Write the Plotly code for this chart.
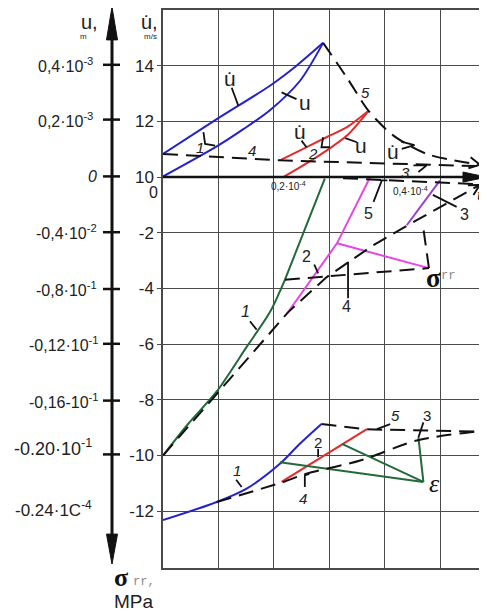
import math
import plotly.graph_objects as go

# ---------------- data ----------------
# x: time, one grid column = 0.1·10^-4 s ; y: chart units
# (above the t-axis: u̇ - 10 m/s ; below: σ_rr in MPa-scale units)

# region u / u̇
t_udot1 = [0, 0.97, 1.93, 2.41, 2.89]
udot1 = [0.83, 2.08, 3.28, 4.0, 4.82]
t_u1 = [0, 0.97, 1.45, 1.93, 2.47, 2.89]
u1 = [0.02, 1.10, 1.72, 2.40, 3.45, 4.82]
t_d5 = [2.89, 3.32, 3.71, 4.16, 4.76, 5.72]
d5 = [4.82, 3.57, 2.38, 1.49, 0.83, 0.44]
t_d4 = [0, 2.11, 5.72]
d4 = [0.83, 0.60, 0.39]
t_udot2 = [2.11, 2.53, 2.95, 3.32, 3.71]
udot2 = [0.60, 1.01, 1.43, 1.79, 2.38]
t_u2 = [2.17, 2.53, 2.95, 3.32, 3.71]
u2 = [0.0, 0.42, 0.95, 1.49, 2.38]
t_d3 = [3.25, 5.72]
d3 = [-0.04, -0.26]

# region σ_rr
t_s1a = [0, 0.46, 0.97, 1.51, 1.93, 2.2]
s1a = [-10, -8.85, -7.70, -6.10, -4.85, -3.69]
t_s1b = [2.2, 2.92]
s1b = [-3.69, -0.06]
t_sd1 = [0, 0.91, 1.75, 2.26, 2.95, 3.8, 4.58, 5.72]
sd1 = [-10, -7.92, -6.01, -4.85, -3.6, -2.44, -1.55, -0.28]
t_sd4 = [2.2, 4.8]
sd4 = [-3.69, -3.27]
t_sd3 = [4.8, 4.69]
sd3 = [-3.27, -1.71]
t_s2 = [2.24, 3.14, 3.74]
s2 = [-4.9, -2.38, 0.0]
t_s2b = [3.14, 4.8]
s2b = [-2.38, -3.27]
t_s3 = [4.40, 5.0]
s3 = [-1.73, -0.12]

# region ε
t_e1 = [0, 0.97, 1.51, 2.11, 2.47, 2.86]
e1 = [-12.32, -11.67, -11.19, -10.30, -9.58, -8.87]
t_ed5 = [2.86, 3.68, 5.72]
ed5 = [-8.87, -9.06, -9.14]
t_ed1 = [0.97, 2.17, 2.59, 3.56, 4.58, 5.72]
ed1 = [-11.67, -10.95, -10.65, -10.18, -9.46, -9.12]
t_e2 = [2.14, 3.68]
e2 = [-10.95, -9.05]
t_g1 = [2.11, 4.70]
g1 = [-10.24, -10.95]
t_g2 = [3.23, 4.70]
g2 = [-9.58, -10.95]
t_g3 = [4.61, 4.70]
g3 = [-9.35, -10.95]

# axis ticks
y_tickvals = [4, 2, 0, -2, -4, -6, -8, -10, -12]
y_ticktext = ["14", "12", "10", "-2", "-4", "-6", "-8", "-10", "-12"]
x_gridvals = [0, 1, 2, 3, 4, 5]
outer_labels = ["0,4·10<sup>-3</sup>", "0,2·10<sup>-3</sup>", "<i>0</i>",
                "-0,4·10<sup>-2</sup>", "-0,8·10<sup>-1</sup>", "-0,12·10<sup>-1</sup>",
                "-0,16-10<sup>-1</sup>", "-0.20·10<sup>-1</sup>", "-0.24·1C<sup>-4</sup>"]

# ---------------- geometry / styling ----------------
OFF = 8                      # page body margin of the browser
WIN_W, WIN_H = 487, 611
W_FIG, H_FIG = WIN_W - OFF, WIN_H - OFF
L, R, T, B = 163, 487, 8, 568   # plot area in window pixels
XMAX = 5.848
YMIN, YMAX = -14.04, 6.0
SX = (R - L) / XMAX
SY = (B - T) / (YMAX - YMIN)

BLUE = "#2323c8"
RED = "#e52a2a"
GREEN = "#23693a"
MAG = "#e844e8"
PURP = "#9a3fd0"
BLK = "#111111"
DASH = "15px,8px"
SANS = "Arial, Liberation Sans, sans-serif"
SERIF = "Liberation Serif, DejaVu Serif, serif"
MONO = "Liberation Mono, DejaVu Sans Mono, monospace"

fig = go.Figure()


def line(x, y, color, width=2.0, dash=None, shape="linear"):
    fig.add_trace(go.Scatter(x=x, y=y, mode="lines",
                             line=dict(color=color, width=width, dash=dash, shape=shape,
                                       smoothing=0.8),
                             hoverinfo="skip", showlegend=False))


def chevron(xs, ys, length=12, ang=28):
    xe, ye, xp, yp = xs[-1], ys[-1], xs[-2], ys[-2]
    dx, dy = (xe - xp) * SX, (ye - yp) * SY
    n = math.hypot(dx, dy)
    dx, dy = dx / n, dy / n
    px, py = [], []
    for s in (1, -1):
        a = math.radians(ang) * s
        rx = dx * math.cos(a) - dy * math.sin(a)
        ry = dx * math.sin(a) + dy * math.cos(a)
        px.append(xe - length * rx / SX)
        py.append(ye - length * ry / SY)
    line([px[0], xe, px[1]], [py[0], ye, py[1]], BLK, 2)


# colored curves
line(t_udot1, udot1, BLUE, shape="spline")
line(t_u1, u1, BLUE, shape="spline")
line(t_udot2, udot2, RED, shape="spline")
line(t_u2, u2, RED, shape="spline")
line(t_s1a, s1a, GREEN, shape="spline")
line(t_s1b, s1b, GREEN)
line(t_s2, s2, MAG)
line(t_s2b, s2b, MAG)
line(t_s3, s3, PURP)
line(t_e1, e1, BLUE, shape="spline")
line(t_e2, e2, RED)
line(t_g1, g1, GREEN)
line(t_g2, g2, GREEN)
line(t_g3, g3, GREEN)

# dashed curves
line(t_d5, d5, BLK, 2, DASH, "spline")
line(t_ed1, ed1, BLK, 2, DASH, "spline")
for xs, ys in [(t_sd1, sd1), (t_d4, d4), (t_d3, d3), (t_sd4, sd4), (t_sd3, sd3),
               (t_ed5, ed5)]:
    line(xs, ys, BLK, 2, DASH)
chevron(t_d5, d5)
chevron(t_sd1, sd1)

# leader lines (label pointers)
leaders = [
    ([1.24, 1.36], [3.21, 2.56]), ([2.14, 2.41], [3.04, 2.80]),
    ([0.73, 0.76, 0.94], [1.61, 1.19, 1.13]),
    ([2.50, 2.59], [1.31, 1.07]), ([2.89, 2.86, 3.01], [1.43, 1.07, 1.07]),
    ([3.29, 3.50], [1.40, 1.25]), ([4.30, 4.54, 4.31], [1.27, 1.15, 1.01]),
    ([4.52, 4.76, 4.61], [0.42, 0.42, 0.18]),
    ([3.80, 3.95, 4.05], [-0.89, -0.12, -0.12]), ([4.87, 5.30], [-0.64, -1.07]),
    ([2.73, 2.80], [-3.14, -3.46]), ([3.34, 3.34], [-3.04, -4.35]),
    ([1.57, 1.69], [-5.18, -5.48]),
    ([1.32, 1.42], [-10.87, -11.13]), ([2.80, 2.80], [-9.76, -10.06]),
    ([2.56, 2.56, 2.64], [-11.13, -10.71, -10.66]),
    ([3.86, 4.10], [-9.05, -8.87]), ([4.70, 4.61], [-8.81, -9.35]),
]
for xs, ys in leaders:
    line(xs, ys, BLK, 1.8)

# t-axis with filled arrow
fig.add_shape(type="line", xref="x", yref="y", x0=0, y0=0, x1=5.5, y1=0,
              line=dict(color=BLK, width=2.5))
fig.add_shape(type="path", xref="x", yref="y",
              path=f"M {XMAX},0 L {XMAX - 24/SX},{5/SY} L {XMAX - 24/SX},{-5/SY} Z",
              fillcolor=BLK, line=dict(color=BLK, width=1))


def PX(px):
    return (px - L) / (R - L)


def PY(py):
    return (B - py) / (B - T)


# outer (left) axis with arrows
AX = 112
fig.add_shape(type="line", xref="paper", yref="paper", x0=PX(AX), x1=PX(AX),
              y0=PY(30), y1=PY(540), line=dict(color=BLK, width=3))
fig.add_shape(type="path", xref="paper", yref="paper",
              path=f"M {PX(AX)},{PY(5)} L {PX(AX-5.5)},{PY(38)} L {PX(AX+5.5)},{PY(38)} Z",
              fillcolor=BLK, line=dict(color=BLK, width=1))
fig.add_shape(type="path", xref="paper", yref="paper",
              path=f"M {PX(AX)},{PY(564)} L {PX(AX-5.5)},{PY(534)} L {PX(AX+5.5)},{PY(534)} Z",
              fillcolor=BLK, line=dict(color=BLK, width=1))
tick_py = [63, 118, 175, 231, 288, 343, 400, 454]
for py in tick_py:
    fig.add_shape(type="line", xref="paper", yref="paper", x0=PX(103), x1=PX(120),
                  y0=PY(py), y1=PY(py), line=dict(color=BLK, width=2.5))

annotations = []


def pann(px, py, text, size, xanchor="center", family=SANS, color="#222", bold=False):
    annotations.append(dict(x=PX(px), y=PY(py), xref="paper", yref="paper", text=text,
                            showarrow=False, xanchor=xanchor, yanchor="middle",
                            borderpad=0,
                            font=dict(family=family, size=size, color=color,
                                      weight="bold" if bold else "normal")))


def dann(x, y, text, size, family=SANS, color="#222", xanchor="center", bold=False):
    annotations.append(dict(x=x, y=y, xref="x", yref="y", text=text, showarrow=False,
                            xanchor=xanchor, yanchor="middle", borderpad=0,
                            font=dict(family=family, size=size, color=color,
                                      weight="bold" if bold else "normal")))


outer_pos = [(94, 63), (94, 118), (98, 175), (98, 231), (98, 288), (100, 343),
             (100, 400), (93, 447), (93, 509)]
outer_size = [16, 16, 16, 16, 16, 16, 16, 18, 17]
for txt, (px, py), sz in zip(outer_labels, outer_pos, outer_size):
    pann(px, py, txt, sz, xanchor="right")

pann(89, 20, "u,", 20)
pann(83, 35, "m", 8)
pann(149, 20, "u\u0307,", 20)
pann(150, 35, "m/s", 8)
pann(153, 191, "0", 16)
pann(121, 578, "σ", 26, family=SERIF, color="#111", bold=True)
pann(144, 582, "rr,", 12, family=MONO, color="#888")
pann(134, 602, "MPa", 19)

# labels in the plot
dann(1.21, 3.55, "u\u0307", 21)
dann(2.56, 2.68, "u", 21)
dann(0.67, 1.07, "<i>1</i>", 15)
dann(1.60, 0.96, "<i>4</i>", 15)
dann(3.65, 3.04, "<i>5</i>", 15)
dann(2.47, 1.65, "u\u0307", 21)
dann(2.71, 0.83, "<i>2</i>", 15)
dann(3.58, 1.13, "u", 21)
dann(4.16, 0.92, "u\u0307", 21)
dann(4.37, 0.18, "<i>3</i>", 15)
dann(2.26, -0.33, "0,2·10<sup>-4</sup>", 10)
dann(4.46, -0.50, "0,4·10<sup>-4</sup>", 10)
dann(XMAX, -0.62, "<i>t,</i>", 17, family=SERIF, xanchor="right")

dann(3.71, -1.31, "5", 16)
dann(5.45, -1.36, "3", 16)
dann(2.59, -2.86, "2", 16)
dann(3.32, -4.64, "4", 16)
dann(1.48, -4.82, "<i>1</i>", 16)
dann(4.88, -3.64, "σ", 27, family=SERIF, color="#111", bold=True)
dann(5.15, -3.55, "rr", 12, family=MONO, color="#888")

dann(1.33, -10.54, "<i>1</i>", 15)
dann(2.80, -9.53, "2", 15)
dann(2.53, -11.55, "<i>4</i>", 15)
dann(4.19, -8.57, "<i>5</i>", 15)
dann(4.76, -8.57, "3", 15)
dann(4.90, -11.0, "<i>ε</i>", 26, family=SERIF, color="#111")

fig.update_layout(
    width=W_FIG, height=H_FIG,
    margin=dict(l=L - OFF, r=WIN_W - R, t=T - OFF, b=WIN_H - B, pad=0),
    plot_bgcolor="white", paper_bgcolor="white", showlegend=False,
    annotations=annotations,
    xaxis=dict(range=[0, XMAX], tickvals=x_gridvals, showticklabels=False, ticks="",
               showgrid=True, gridcolor="#4a4a4a", gridwidth=1.3, zeroline=False,
               showline=True, mirror=True, linecolor="#4a4a4a", linewidth=1.5),
    yaxis=dict(range=[YMIN, YMAX], tickvals=y_tickvals, ticktext=y_ticktext,
               showgrid=True, gridcolor="#4a4a4a", gridwidth=1.3, zeroline=False,
               showline=True, linecolor="#4a4a4a", linewidth=1.5,
               ticks="outside", ticklen=4, tickcolor="#4a4a4a",
               tickfont=dict(family=SANS, size=17, color="#222")),
)

fig.write_html("out.html")
